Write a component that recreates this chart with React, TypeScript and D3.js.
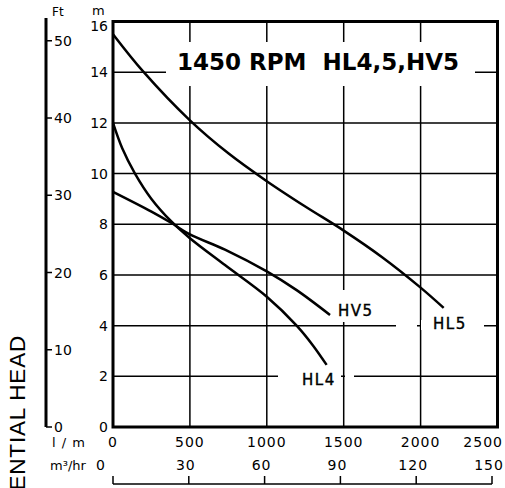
import React from "react";
import * as d3 from "d3";

// pump curves, flow in l/m, head in m
const hl5Flow = [0, 200, 500, 750, 1000, 1250, 1500, 1750, 2000, 2150];
const hl5Head = [15.5, 14, 12.1, 10.8, 9.7, 8.7, 7.75, 6.7, 5.5, 4.7];
const hl4Flow = [0, 60, 143, 250, 381, 500, 728, 1000, 1194, 1300, 1389];
const hl4Head = [12.0, 11.0, 10, 9.0, 8.1, 7.45, 6.39, 5.14, 4.0, 3.22, 2.45];
const hv5Flow = [0, 250, 380, 500, 728, 1000, 1194, 1411];
const hv5Head = [9.28, 8.5, 8.05, 7.6, 7.0, 6.14, 5.4, 4.42];

const mTicks = [0, 2, 4, 6, 8, 10, 12, 14, 16];
const ftTicks = [0, 10, 20, 30, 40, 50];
const lmTicks = [0, 500, 1000, 1500, 2000, 2500];
const m3Ticks = [0, 30, 60, 90, 120, 150];

const FONT = "DejaVu Sans, sans-serif";

const App: React.FC = () => {
  const x = d3.scaleLinear().domain([0, 2500]).range([113, 497.5]);
  const y = d3.scaleLinear().domain([0, 16]).range([427, 21.5]);
  const yFt = (v: number) => y(v * 0.3048);
  const xM3 = d3.scaleLinear().domain([0, 150]).range([113, 492]);

  const line = d3
    .line<[number, number]>()
    .x((d) => x(d[0]))
    .y((d) => y(d[1]))
    .curve(d3.curveCatmullRom.alpha(0.5));

  const curves = [
    { name: "HL5", flow: hl5Flow, head: hl5Head },
    { name: "HL4", flow: hl4Flow, head: hl4Head },
    { name: "HV5", flow: hv5Flow, head: hv5Head },
  ];

  const gridH = mTicks.filter((v) => v > 0 && v < 16);
  const gridV = lmTicks.filter((v) => v > 0 && v < 2500);

  const labelStyle = {
    fontFamily: FONT,
    fontSize: 15,
    letterSpacing: 1.5,
    stroke: "#000",
    strokeWidth: 0.4,
  };

  return (
    <svg
      width={505}
      height={488}
      style={{ position: "absolute", left: 0, top: 0, background: "#fff" }}
    >
      {/* grid */}
      {gridH.map((v) => (
        <line key={"h" + v} x1={x(0)} x2={x(2500)} y1={y(v)} y2={y(v)} stroke="#000" strokeWidth={1.5} />
      ))}
      {gridV.map((v) => (
        <line key={"v" + v} x1={x(v)} x2={x(v)} y1={y(16)} y2={y(0)} stroke="#000" strokeWidth={1.5} />
      ))}

      {/* gaps in the grid behind the labels */}
      <rect x={166} y={42} width={309} height={44} fill="#fff" />
      <rect x={396} y={320} width={21} height={10} fill="#fff" />
      <rect x={421} y={320} width={63} height={10} fill="#fff" />
      <rect x={339} y={290} width={8} height={32} fill="#fff" />
      <rect x={278} y={370} width={63} height={10} fill="#fff" />
      <rect x={345} y={370} width={9} height={10} fill="#fff" />

      {/* frame */}
      <rect x={x(0)} y={y(16)} width={x(2500) - x(0)} height={y(0) - y(16)} fill="none" stroke="#000" strokeWidth={3} />

      {/* curves */}
      {curves.map((c) => (
        <path
          key={c.name}
          d={line(c.flow.map((f, i) => [f, c.head[i]] as [number, number])) || ""}
          fill="none"
          stroke="#000"
          strokeWidth={2.5}
        />
      ))}

      {/* title */}
      <text x={177} y={70} fontFamily={FONT} fontWeight="bold" fontSize={23}>
        1450 RPM{"\u00a0\u00a0"}HL4,5,HV5
      </text>

      {/* curve labels */}
      <text x={338} y={316} style={labelStyle}>HV5</text>
      <text x={433} y={328.5} style={labelStyle}>HL5</text>
      <text x={302} y={385} style={labelStyle}>HL4</text>

      {/* m axis labels */}
      <text x={92} y={15} fontFamily={FONT} fontSize={13}>m</text>
      {mTicks.map((v) => (
        <text key={"m" + v} x={108} y={Math.max(y(v), 26) + 5} textAnchor="end" fontFamily={FONT} fontSize={14}>
          {v}
        </text>
      ))}

      {/* Ft axis */}
      <text x={52} y={16} fontFamily={FONT} fontSize={12}>Ft</text>
      <line x1={46} x2={46} y1={18} y2={yFt(0)} stroke="#000" strokeWidth={3} />
      {ftTicks.map((v) => (
        <g key={"ft" + v}>
          <line x1={46} x2={52} y1={yFt(v)} y2={yFt(v)} stroke="#000" strokeWidth={1.5} />
          <text x={54} y={yFt(v) + 5} fontFamily={FONT} fontSize={14}>{v}</text>
        </g>
      ))}

      {/* l/m labels */}
      <text x={52} y={447} fontFamily={FONT} fontSize={13} letterSpacing={1}>l / m</text>
      {lmTicks.map((v, i) => (
        <text
          key={"lm" + v}
          x={i === lmTicks.length - 1 ? 503 : x(v)}
          y={447}
          textAnchor={i === lmTicks.length - 1 ? "end" : "middle"}
          fontFamily={FONT}
          fontSize={14}
          letterSpacing={1}
        >
          {v}
        </text>
      ))}

      {/* m3/hr axis */}
      <text x={50} y={470} fontFamily={FONT} fontSize={13}>m³/hr</text>
      {m3Ticks.map((v, i) => (
        <text
          key={"m3" + v}
          x={i === 0 ? 101 : xM3(v) - 3}
          y={470}
          textAnchor="middle"
          fontFamily={FONT}
          fontSize={14}
          letterSpacing={1}
        >
          {v}
        </text>
      ))}
      <line x1={xM3(0)} x2={xM3(150)} y1={484} y2={484} stroke="#000" strokeWidth={1.5} />
      {m3Ticks.map((v) => (
        <line key={"t" + v} x1={xM3(v)} x2={xM3(v)} y1={484} y2={476} stroke="#000" strokeWidth={1.5} />
      ))}

      {/* rotated axis title */}
      <text
        transform="translate(25,335) rotate(-90)"
        textAnchor="end"
        fontFamily="Liberation Sans, Arial, sans-serif"
        fontSize={22.5}
        letterSpacing={0.8}
      >
        DIFFERENTIAL HEAD
      </text>
    </svg>
  );
};

export default App;
